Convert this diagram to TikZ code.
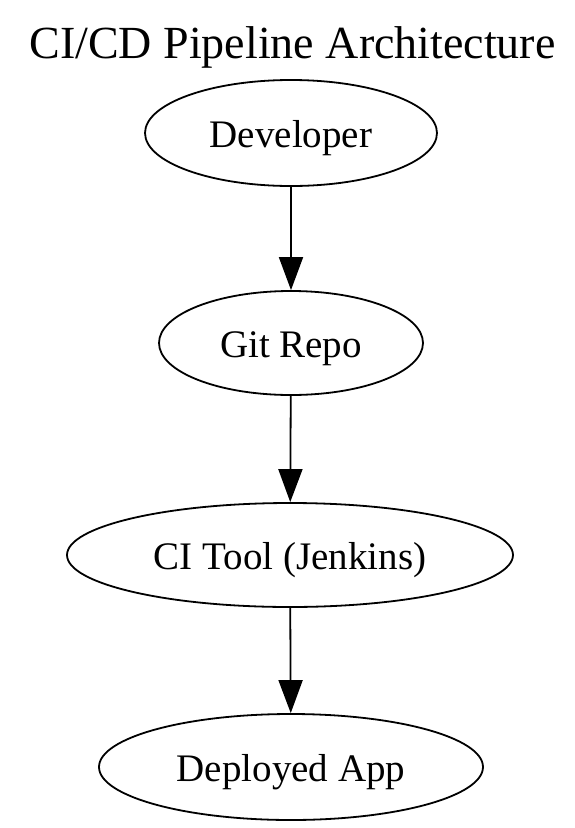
\documentclass[tikz,border=0pt]{standalone}
\usepackage{fontspec}
\setmainfont{Liberation Serif}
\usetikzlibrary{shapes.geometric,arrows.meta}
\begin{document}
\begin{tikzpicture}[x=1pt,y=-1pt,
  stage/.style={ellipse,draw,line width=1.8pt,inner sep=0pt,
    font=\fontsize{39}{39}\selectfont,text height=30pt,text depth=2pt},
  flow/.style={line width=1.8pt,-{Triangle[length=33pt,width=24pt]}}]
\useasboundingbox (0,0) rectangle (574,828);
\node[font=\fontsize{46}{46}\selectfont,anchor=base] (title) at (292.5,58) {CI/CD Pipeline Architecture};
\node[stage,minimum width=292pt,minimum height=106pt] (dev) at (291,133) {Developer};
\node[stage,minimum width=264pt,minimum height=104pt] (git) at (291,343) {Git Repo};
\node[stage,minimum width=446pt,minimum height=104pt] (ci) at (290,555) {CI Tool (Jenkins)};
\node[stage,minimum width=384pt,minimum height=106pt] (app) at (291,767) {Deployed App};
\draw[flow] (dev) -- (git);
\draw[flow] (git) -- (ci);
\draw[flow] (ci) -- (app);
\end{tikzpicture}
\end{document}
